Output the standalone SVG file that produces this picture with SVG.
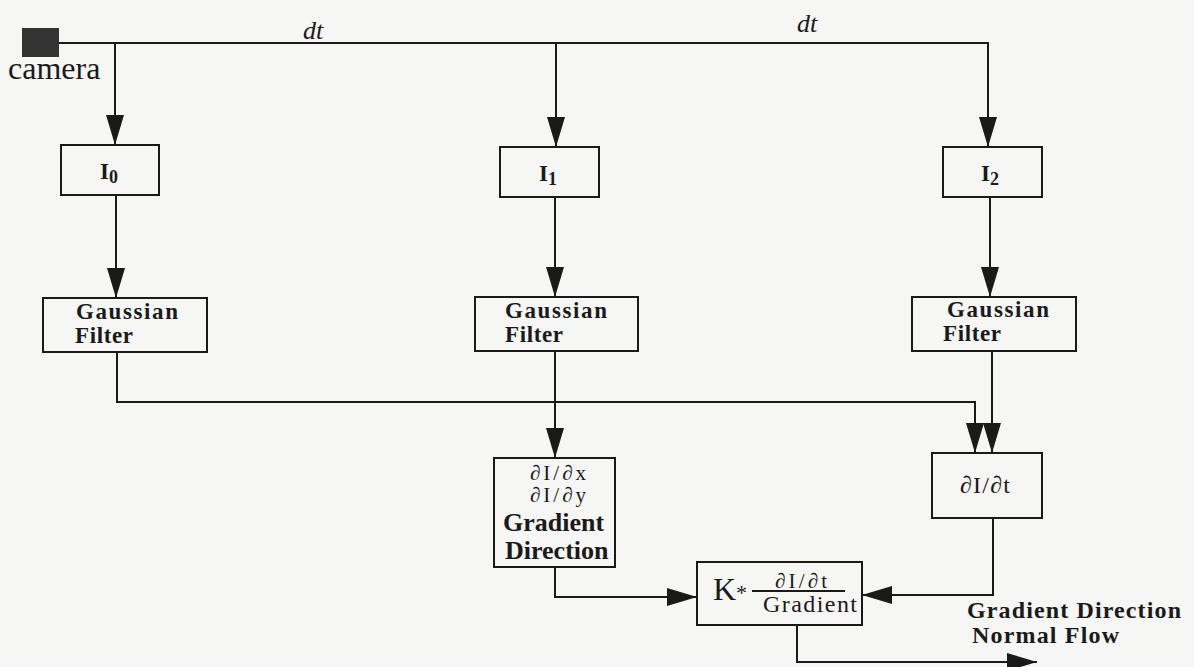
<svg xmlns="http://www.w3.org/2000/svg" width="1194" height="667" viewBox="0 0 1194 667">
<style>
.box{fill:none;stroke:#1a1a1a;stroke-width:2}
.ln{fill:none;stroke:#1a1a1a;stroke-width:2}
.t{font-family:'Liberation Serif',serif;fill:#1a1a1a}
.b{font-weight:bold}
.i{font-style:italic}
</style>
<defs>
<marker id="ah" markerUnits="userSpaceOnUse" markerWidth="32" markerHeight="18" viewBox="0 0 30 18" refX="30" refY="9" orient="auto">
<path d="M0,0 L30,9 L0,18 Z" fill="#1a1a1a"/>
</marker>
</defs>
<rect width="1194" height="667" fill="#f6f6f4"/>
<g id="camera">
<rect x="22" y="28" width="37" height="29" fill="#333"/>
<text class="t" x="8" y="79" font-size="32">camera</text>
</g>
<g id="labels">
<text class="t i" x="303" y="39" font-size="26">dt</text>
<text class="t i" x="797" y="32" font-size="26">dt</text>
</g>
<g id="connectors">
<path class="ln" d="M59,43 H988 V147" marker-end="url(#ah)"/>
<path class="ln" d="M115,43 V145" marker-end="url(#ah)"/>
<path class="ln" d="M556,43 V147" marker-end="url(#ah)"/>
<path class="ln" d="M116,195 V298" marker-end="url(#ah)"/>
<path class="ln" d="M555,197 V297" marker-end="url(#ah)"/>
<path class="ln" d="M990,197 V297" marker-end="url(#ah)"/>
<path class="ln" d="M117,352 V402 H975 V453" marker-end="url(#ah)"/>
<path class="ln" d="M992,351 V453" marker-end="url(#ah)"/>
<path class="ln" d="M555,351 V458" marker-end="url(#ah)"/>
<path class="ln" d="M555,567 V597 H697" marker-end="url(#ah)"/>
<path class="ln" d="M993,518 V595 H862" marker-end="url(#ah)"/>
<path class="ln" d="M797,625 V662 H1037" marker-end="url(#ah)"/>
</g>
<g id="I0">
<rect class="box" x="61" y="145" width="98" height="50"/>
<text class="t b" x="100" y="179" font-size="23">I<tspan font-size="18" dy="4">0</tspan></text>
</g>
<g id="I1">
<rect class="box" x="500" y="147" width="99" height="50"/>
<text class="t b" x="539" y="181" font-size="23">I<tspan font-size="18" dy="4">1</tspan></text>
</g>
<g id="I2">
<rect class="box" x="943" y="147" width="99" height="50"/>
<text class="t b" x="981" y="181" font-size="23">I<tspan font-size="18" dy="4">2</tspan></text>
</g>
<g id="gauss0">
<rect class="box" x="43" y="298" width="164" height="54"/>
<text class="t b" x="76" y="319" font-size="23" textLength="102">Gaussian</text>
<text class="t b" x="75" y="343" font-size="23" textLength="58">Filter</text>
</g>
<g id="gauss1">
<rect class="box" x="475" y="297" width="163" height="54"/>
<text class="t b" x="505" y="318" font-size="23" textLength="102">Gaussian</text>
<text class="t b" x="505" y="342" font-size="23" textLength="58">Filter</text>
</g>
<g id="gauss2">
<rect class="box" x="912" y="297" width="164" height="54"/>
<text class="t b" x="947" y="317" font-size="23" textLength="102">Gaussian</text>
<text class="t b" x="943" y="341" font-size="23" textLength="58">Filter</text>
</g>
<g id="gradient">
<rect class="box" x="494" y="458" width="121" height="109"/>
<text class="t" x="530" y="480" font-size="21" textLength="56">∂I/∂x</text>
<text class="t" x="530" y="502" font-size="21" textLength="56">∂I/∂y</text>
<text class="t b" x="503" y="531" font-size="26">Gradient</text>
<text class="t b" x="505" y="559" font-size="26">Direction</text>
</g>
<g id="dIdt">
<rect class="box" x="932" y="453" width="110" height="65"/>
<text class="t" x="960" y="493" font-size="24" textLength="50">∂I/∂t</text>
</g>
<g id="kbox">
<rect class="box" x="697" y="562" width="165" height="63"/>
<text class="t" x="713" y="600" font-size="32">K</text>
<text class="t" x="736" y="600" font-size="22">*</text>
<line class="ln" x1="752" y1="591" x2="845" y2="591"/>
<text class="t" x="775" y="588" font-size="21" textLength="52">∂I/∂t</text>
<text class="t" x="763" y="612" font-size="24" textLength="94">Gradient</text>
</g>
<g id="output">
<text class="t b" x="967" y="618" font-size="24" textLength="214">Gradient Direction</text>
<text class="t b" x="972" y="643" font-size="24" textLength="147">Normal Flow</text>
</g>
</svg>
